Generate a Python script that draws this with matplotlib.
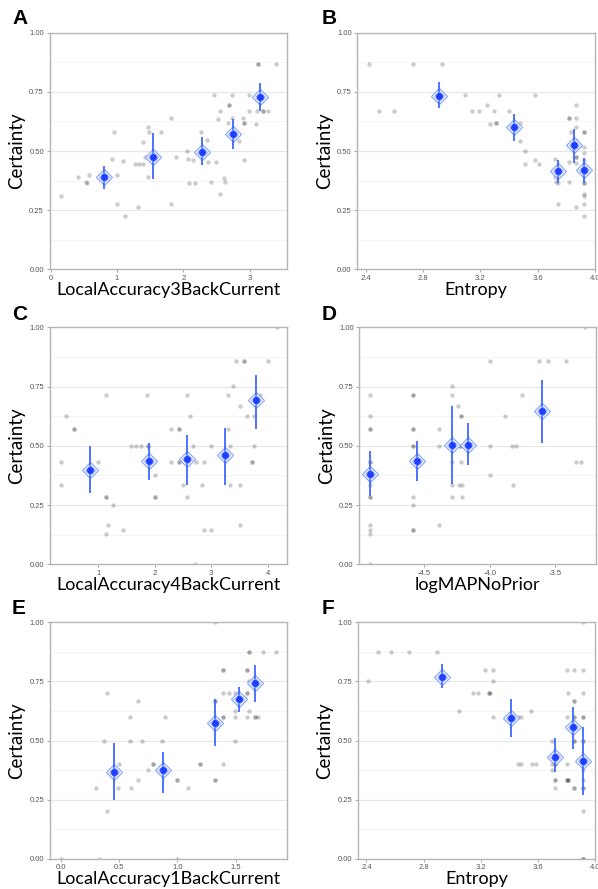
import numpy as np
import matplotlib
matplotlib.use("Agg")
from matplotlib import pyplot as plt

# ---- data ----
# A: LocalAccuracy3BackCurrent
a_x = [0.16, 0.415, 0.535, 0.55, 0.575, 0.95, 0.93, 1.0, 1.0, 1.095, 1.115, 1.275, 1.32, 1.33, 1.39,
       1.39, 1.415, 1.47, 1.475, 1.47, 1.665, 1.815, 1.815, 1.89, 2.055, 2.065, 2.09, 2.15, 2.175,
       2.26, 2.36, 2.365, 2.42, 2.465, 2.5, 2.53, 2.55, 2.55, 2.61, 2.63, 2.69, 2.69, 2.68, 2.73,
       2.73, 2.84, 2.9, 2.92, 2.92, 2.92, 2.99, 2.99, 3.1, 3.105, 3.13, 3.13, 3.2, 3.2, 3.28, 3.395]
a_y = [0.31, 0.39, 0.369, 0.366, 0.40, 0.58, 0.465, 0.40, 0.275, 0.456, 0.224, 0.445, 0.265, 0.445, 0.445,
       0.54, 0.476, 0.603, 0.58, 0.39, 0.58, 0.638, 0.276, 0.476, 0.501, 0.468, 0.366, 0.462, 0.366,
       0.58, 0.546, 0.455, 0.37, 0.735, 0.455, 0.634, 0.669, 0.318, 0.387, 0.369, 0.693, 0.693, 0.617, 0.735,
       0.639, 0.541, 0.638, 0.617, 0.617, 0.462, 0.669, 0.735, 0.614, 0.669, 0.869, 0.869, 0.669, 0.669, 0.669, 0.869]
a_mx = [0.8, 1.54, 2.28, 2.75, 3.16]
a_my = [0.39, 0.476, 0.494, 0.572, 0.73]
a_lo = [0.341, 0.38, 0.44, 0.507, 0.67]
a_hi = [0.437, 0.575, 0.56, 0.634, 0.789]

# B: Entropy
b_x = [2.42, 2.495, 2.60, 2.73, 2.93, 3.09, 3.14, 3.19, 3.245, 3.27, 3.295, 3.31, 3.31, 3.33, 3.40,
       3.477, 3.477, 3.514, 3.514, 3.58, 3.58, 3.607, 3.72, 3.72, 3.73, 3.745, 3.745, 3.816, 3.816,
       3.82, 3.816, 3.83, 3.867, 3.867, 3.867, 3.867, 3.867, 3.867, 3.867, 3.867, 3.92, 3.92, 3.92,
       3.92, 3.92, 3.92, 3.92, 3.92, 3.92, 3.92, 3.92, 3.92]
b_y = [0.869, 0.669, 0.669, 0.869, 0.869, 0.735, 0.669, 0.669, 0.694, 0.613, 0.669, 0.617, 0.617, 0.735, 0.669,
       0.617, 0.541, 0.501, 0.445, 0.735, 0.462, 0.445, 0.468, 0.389, 0.37, 0.366, 0.276, 0.638, 0.638,
       0.455, 0.369, 0.58, 0.693, 0.638, 0.603, 0.546, 0.476, 0.476, 0.448, 0.265, 0.58, 0.58, 0.518,
       0.49, 0.462, 0.406, 0.366, 0.366, 0.32, 0.311, 0.276, 0.224]
b_mx = [2.914, 3.437, 3.74, 3.853, 3.923]
b_my = [0.731, 0.601, 0.415, 0.525, 0.42]
b_lo = [0.680, 0.544, 0.366, 0.451, 0.363]
b_hi = [0.792, 0.656, 0.462, 0.592, 0.470]

# C: LocalAccuracy4BackCurrent
c_x = [0.331, 0.331, 0.426, 0.568, 0.568, 1.0, 1.142, 1.142, 1.142, 1.13, 1.166, 1.254, 1.432, 1.574,
       1.669, 1.763, 1.858, 1.876, 1.876, 1.89, 2.0, 2.0, 2.0, 2.284, 2.284, 2.432, 2.432, 2.432, 2.432,
       2.497, 2.58, 2.58, 2.633, 2.675, 2.722, 2.734, 2.846, 2.87, 2.87, 3.0, 3.0, 3.296, 3.3, 3.343,
       3.343, 3.385, 3.444, 3.51, 3.51, 3.51, 3.58, 3.58, 3.64, 3.73, 3.73, 3.763, 3.763, 3.87, 4.006, 4.16]
c_y = [0.43, 0.335, 0.626, 0.572, 0.572, 0.43, 0.716, 0.286, 0.286, 0.127, 0.167, 0.25, 0.145, 0.50,
       0.50, 0.50, 0.716, 0.50, 0.50, 0.43, 0.375, 0.286, 0.286, 0.43, 0.572, 0.572, 0.572, 0.43, 0.43,
       0.335, 0.716, 0.286, 0.626, 0.50, 0.0, 0.43, 0.335, 0.43, 0.145, 0.50, 0.145, 0.572, 0.716, 0.335,
       0.50, 0.752, 0.859, 0.668, 0.335, 0.167, 0.859, 0.859, 0.626, 0.43, 0.43, 0.626, 0.50, 0.716, 0.859, 1.0]
c_mx = [0.846, 1.893, 2.568, 3.243, 3.787]
c_my = [0.40, 0.437, 0.443, 0.461, 0.692]
c_lo = [0.302, 0.356, 0.333, 0.333, 0.572]
c_hi = [0.499, 0.511, 0.544, 0.575, 0.80]

# D: logMAPNoPrior
d_x = [-4.916, -4.916, -4.916, -4.916, -4.916, -4.916, -4.916, -4.916, -4.916, -4.916, -4.916, -4.916,
       -4.916, -4.584, -4.584, -4.584, -4.584, -4.584, -4.584, -4.584, -4.574, -4.584, -4.584, -4.584,
       -4.584, -4.39, -4.39, -4.39, -4.29, -4.29, -4.29, -4.29, -4.29, -4.244, -4.228, -4.228, -4.233,
       -4.218, -4.218, -4.218, -4.213, -4.213, -4.0, -4.0, -4.0, -3.883, -3.827, -3.797, -3.822, -3.756,
       -3.624, -3.558, -3.416, -3.343, -3.305, -3.274]
d_y = [0.716, 0.626, 0.572, 0.572, 0.43, 0.43, 0.335, 0.286, 0.286, 0.167, 0.145, 0.127,
       0.0, 0.716, 0.716, 0.572, 0.572, 0.50, 0.50, 0.43, 0.43, 0.286, 0.25, 0.145,
       0.145, 0.572, 0.50, 0.167, 0.752, 0.716, 0.43, 0.335, 0.286, 0.668, 0.50, 0.50, 0.335,
       0.626, 0.626, 0.43, 0.335, 0.286, 0.859, 0.50, 0.375, 0.626, 0.50, 0.50, 0.335, 0.716,
       0.859, 0.859, 0.859, 0.43, 0.43, 1.0]
d_mx = [-4.916, -4.553, -4.29, -4.167, -3.599]
d_my = [0.381, 0.434, 0.502, 0.502, 0.646]
d_lo = [0.288, 0.353, 0.34, 0.418, 0.512]
d_hi = [0.477, 0.519, 0.669, 0.598, 0.777]

# E: LocalAccuracy1BackCurrent
e_x = [0.0, 0.3, 0.331, 0.371, 0.394, 0.394, 0.494, 0.5, 0.594, 0.594, 0.6, 0.663, 0.663, 0.697, 0.749,
       0.794, 0.794, 0.869, 0.891, 0.994, 0.994, 0.994, 1.094, 1.194, 1.194, 1.326, 1.326, 1.326, 1.326,
       1.394, 1.394, 1.394, 1.394, 1.394, 1.394, 1.44, 1.497, 1.491, 1.491, 1.491, 1.594, 1.594, 1.594,
       1.594, 1.594, 1.614, 1.614, 1.614, 1.614, 1.669, 1.669, 1.694, 1.737, 1.846, 1.323]
e_y = [0.0, 0.30, 0.0, 0.499, 0.70, 0.20, 0.30, 0.40, 0.60, 0.499, 0.30, 0.667, 0.333, 0.499, 0.375,
       0.40, 0.40, 0.499, 0.60, 0.333, 0.333, 0.0, 0.30, 0.40, 0.40, 0.667, 0.667, 0.333, 0.333,
       0.80, 0.80, 0.70, 0.60, 0.60, 0.40, 0.70, 0.70, 0.624, 0.60, 0.499, 0.80, 0.80, 0.70,
       0.70, 0.60, 0.876, 0.876, 0.75, 0.624, 0.60, 0.60, 0.60, 0.876, 0.876, 1.0]
e_mx = [0.457, 0.877, 1.323, 1.531, 1.669]
e_my = [0.368, 0.375, 0.575, 0.674, 0.743]
e_lo = [0.248, 0.279, 0.477, 0.62, 0.663]
e_hi = [0.488, 0.453, 0.677, 0.725, 0.818]

# F: Entropy
f_x = [2.41, 2.484, 2.574, 2.698, 2.893, 3.051, 3.144, 3.181, 3.228, 3.256, 3.256, 3.265, 3.284, 3.284,
       3.284, 3.395, 3.395, 3.46, 3.479, 3.46, 3.479, 3.549, 3.558, 3.586, 3.698, 3.698, 3.698, 3.72,
       3.72, 3.72, 3.72, 3.72, 3.805, 3.809, 3.805, 3.805, 3.805, 3.805, 3.814, 3.814, 3.856, 3.856,
       3.856, 3.856, 3.856, 3.856, 3.856, 3.856, 3.856, 3.916, 3.916, 3.916, 3.916, 3.916, 3.916, 3.916,
       3.916, 3.916, 3.916, 3.916, 3.916, 3.916, 3.916, 3.916, 3.916]
f_y = [0.75, 0.876, 0.876, 0.876, 0.876, 0.625, 0.70, 0.70, 0.80, 0.70, 0.70, 0.70, 0.80, 0.75,
       0.60, 0.60, 0.60, 0.60, 0.60, 0.40, 0.40, 0.625, 0.40, 0.40, 0.499, 0.40, 0.375, 0.40,
       0.40, 0.333, 0.333, 0.30, 0.80, 0.70, 0.60, 0.40, 0.333, 0.333, 0.333, 0.333, 0.80, 0.667,
       0.667, 0.60, 0.60, 0.499, 0.499, 0.30, 0.30, 1.0, 0.80, 0.70, 0.60, 0.60, 0.499, 0.499,
       0.40, 0.375, 0.333, 0.30, 0.30, 0.20, 0.0, 0.0, 0.0]
f_mx = [2.926, 3.409, 3.719, 3.847, 3.916]
f_my = [0.77, 0.597, 0.43, 0.556, 0.413]
f_lo = [0.721, 0.513, 0.367, 0.465, 0.271]
f_hi = [0.824, 0.677, 0.511, 0.64, 0.559]

W, H = 598, 889
plt.rcParams['font.family'] = ['Lato', 'DejaVu Sans']


def panel_axes(fig, left, top, right, bottom):
    # pixel box -> figure fraction
    return fig.add_axes([left / W, 1 - bottom / H, (right - left) / W, (bottom - top) / H])


def draw_panel(ax, x, y, mx, my, lo, hi, xlim, xticks, xfmt, xlabel):
    ax.set_xlim(*xlim)
    ax.set_ylim(0, 1)
    # horizontal grid only
    for v in [0.25, 0.5, 0.75]:
        ax.axhline(v, color='#e8e8e8', lw=0.9, zorder=0)
    for v in [0.125, 0.375, 0.625, 0.875]:
        ax.axhline(v, color='#f3f3f3', lw=0.6, zorder=0)

    ax.scatter(x, y, s=10, color='black', alpha=0.2, lw=0, zorder=2)

    # mean +/- error with the double diamond outline
    ax.plot(mx, my, ls='none', marker='D', ms=7.8, mfc='white', mec='#82a0ff', mew=0.8, zorder=3)
    ax.vlines(mx, lo, hi, color='#3f68ff', lw=1.3, zorder=4)
    ax.plot(mx, my, ls='none', marker='D', ms=5.6, mfc='none', mec='#82a0ff', mew=0.7, zorder=4)
    ax.plot(mx, my, ls='none', marker='o', ms=5.0, mfc='#1f3fff', mec='none', zorder=5)

    ax.set_yticks([0, 0.25, 0.5, 0.75, 1.0])
    ax.set_yticklabels(['0.00', '0.25', '0.50', '0.75', '1.00'], family='Liberation Sans')
    ax.set_xticks(xticks)
    ax.set_xticklabels([xfmt.format(t) for t in xticks], family='Liberation Sans')
    ax.tick_params(axis='both', length=2.5, width=0.6, color='#999999', labelsize=5.5,
                   labelcolor='#555555', pad=1.5)
    for s in ax.spines.values():
        s.set_color('#b5b5b5')
        s.set_linewidth(1.0)
    ax.set_xlabel(xlabel, fontsize=13, labelpad=0)
    ax.set_ylabel('Certainty', fontsize=13.5, labelpad=3)


fig = plt.figure(figsize=(W / 100, H / 100), dpi=100)

ax_a = panel_axes(fig, 49.5, 32.7, 286.7, 269.3)
draw_panel(ax_a, a_x, a_y, a_mx, a_my, a_lo, a_hi, (-0.02, 3.56), [0, 1, 2, 3], '{:.0f}',
           'LocalAccuracy3BackCurrent')
ax_b = panel_axes(fig, 357.3, 32.7, 595, 269.3)
draw_panel(ax_b, b_x, b_y, b_mx, b_my, b_lo, b_hi, (2.341, 4.0), [2.4, 2.8, 3.2, 3.6, 4.0], '{:.1f}',
           'Entropy')
ax_c = panel_axes(fig, 50, 327.3, 286.7, 564.3)
draw_panel(ax_c, c_x, c_y, c_mx, c_my, c_lo, c_hi, (0.142, 4.34), [1, 2, 3, 4], '{:.0f}',
           'LocalAccuracy4BackCurrent')
ax_d = panel_axes(fig, 359.3, 327.3, 596, 564.3)
draw_panel(ax_d, d_x, d_y, d_mx, d_my, d_lo, d_hi, (-4.995, -3.19), [-4.5, -4.0, -3.5], '{:.1f}',
           'logMAPNoPrior')
ax_e = panel_axes(fig, 50, 622.3, 286.7, 858.7)
draw_panel(ax_e, e_x, e_y, e_mx, e_my, e_lo, e_hi, (-0.091, 1.937), [0.0, 0.5, 1.0, 1.5], '{:.1f}',
           'LocalAccuracy1BackCurrent')
ax_f = panel_axes(fig, 358, 622.3, 595, 858.7)
draw_panel(ax_f, f_x, f_y, f_mx, f_my, f_lo, f_hi, (2.341, 4.0), [2.4, 2.8, 3.2, 3.6, 4.0], '{:.1f}',
           'Entropy')

# panel letters
for lab, px, py in [('A', 12, 19), ('B', 322, 19), ('C', 12, 314), ('D', 322, 314), ('E', 12, 609), ('F', 322, 609)]:
    fig.text(px / W, 1 - py / H, lab, fontsize=15, fontweight='bold', family='Liberation Sans',
             va='center', ha='left')

fig.savefig('out.png', dpi=100)
